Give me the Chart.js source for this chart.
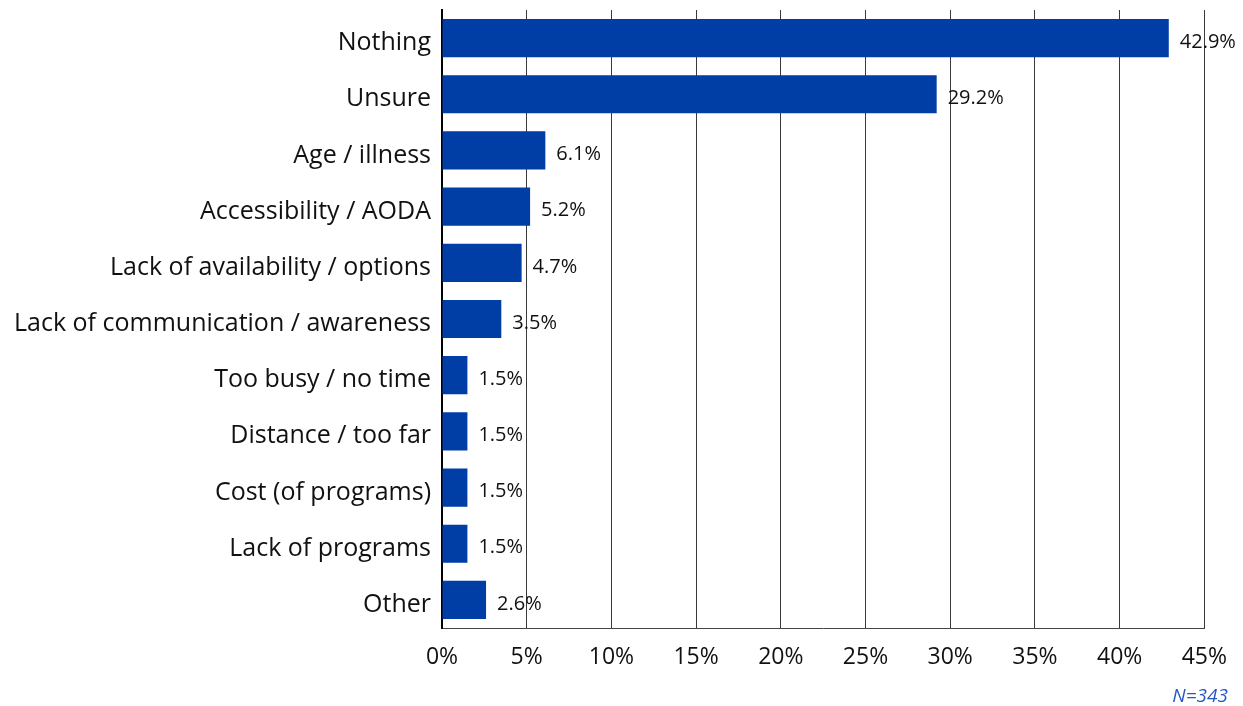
<!DOCTYPE html>
<html>
<head>
<meta charset="utf-8">
<script src="https://cdn.jsdelivr.net/npm/chart.js@4/dist/chart.umd.min.js"></script>
<style>
  html, body { margin: 0; padding: 0; background: #fff; }
  #wrap { width: 1243px; height: 706px; position: relative; }
</style>
</head>
<body>
<div id="wrap"><canvas id="grafico"></canvas></div>
<script>
// categorias e percentuais
const categorias = [
  "Nothing",
  "Unsure",
  "Age / illness",
  "Accessibility / AODA",
  "Lack of availability / options",
  "Lack of communication / awareness",
  "Too busy / no time",
  "Distance / too far",
  "Cost (of programs)",
  "Lack of programs",
  "Other"
];
const valores = [42.9, 29.2, 6.1, 5.2, 4.7, 3.5, 1.5, 1.5, 1.5, 1.5, 2.6];
const ticksX = [0, 5, 10, 15, 20, 25, 30, 35, 40, 45];
const totalN = "N=343";

const fonte = "'Open Sans', 'Noto Sans', sans-serif";

// rotulos de valor ao lado de cada barra + nota N
const rotulos = {
  id: "rotulos",
  afterDatasetsDraw(chart) {
    const ctx = chart.ctx;
    const meta = chart.getDatasetMeta(0);
    ctx.save();
    ctx.fillStyle = "#111";
    ctx.font = "20px " + fonte;
    ctx.textBaseline = "middle";
    ctx.textAlign = "left";
    meta.data.forEach(function (barra, i) {
      ctx.fillText(valores[i].toFixed(1) + "%", barra.x + 11, barra.y + 4);
    });
    ctx.fillStyle = "#2456c4";
    ctx.font = "italic 19px " + fonte;
    ctx.textAlign = "right";
    ctx.fillText(totalN, 1228, 697);
    ctx.restore();
  }
};

new Chart(document.getElementById("grafico"), {
  type: "bar",
  data: {
    labels: categorias,
    datasets: [
      {
        data: valores,
        backgroundColor: "#003DA5",
        categoryPercentage: 1,
        barPercentage: 0.68,
      },
    ],
  },
  options: {
    indexAxis: "y",
    responsive: true,
    maintainAspectRatio: false,
    animation: false,
    layout: { padding: { top: 10, right: 38, bottom: 0, left: 0 } },
    plugins: {
      legend: { display: false },
      tooltip: { enabled: false },
    },
    scales: {
      x: {
        min: 0,
        max: 45,
        afterBuildTicks: function (s) {
          s.ticks = ticksX.map(function (v) { return { value: v }; });
        },
        afterFit: function (s) { s.height = 78; },
        grid: { color: "#3a3a3a", lineWidth: 1, drawTicks: false },
        border: { color: "#444", width: 1 },
        ticks: {
          color: "#111",
          padding: 16,
          font: { family: fonte, size: 23 },
          callback: function (v) { return v + "%"; },
        },
      },
      y: {
        afterFit: function (s) {
          s.width = 442;
          s.paddingTop = 0;
          s.paddingBottom = 0;
        },
        grid: { display: false, drawTicks: false },
        border: { color: "#000", width: 2 },
        ticks: {
          color: "#111",
          padding: 11,
          labelOffset: 5,
          font: { family: fonte, size: 25 },
        },
      },
    },
  },
  plugins: [rotulos],
});
</script>
</body>
</html>
